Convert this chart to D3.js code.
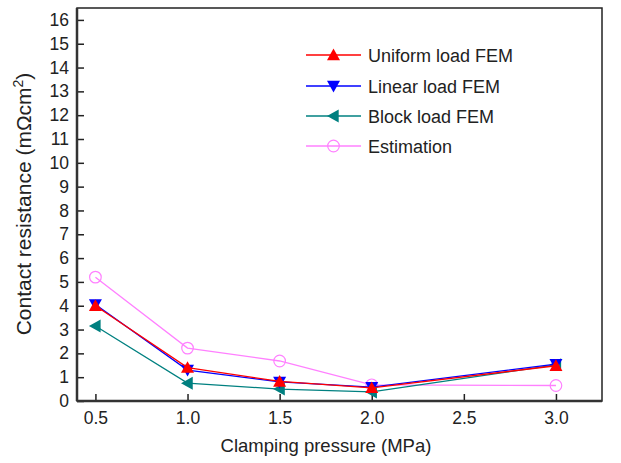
<!DOCTYPE html>
<html>
<head>
<meta charset="utf-8">
<script src="https://cdn.jsdelivr.net/npm/d3@7"></script>
<style>
  body { margin: 0; background: #fff; }
  svg text { font-family: "Liberation Sans", Arial, sans-serif; }
</style>
</head>
<body>
<div class="chart"></div>
<script>
const pressure = [0.5, 1.0, 1.5, 2.0, 3.0];
const uniformLoad = [4.0, 1.4, 0.82, 0.55, 1.48];
const linearLoad = [4.05, 1.3, 0.8, 0.58, 1.55];
const blockLoad = [3.15, 0.75, 0.5, 0.38, 1.52];
const estimation = [5.2, 2.22, 1.68, 0.68, 0.65];
const xTicks = [0.5, 1.0, 1.5, 2.0, 2.5, 3.0];
const yTicks = d3.range(0, 17);

const w = 621, h = 463;
const pLeft = 77, pRight = 602, pTop = 8, pBottom = 401;

const xScale = d3.scaleLinear().domain([0.4, 3.25]).range([pLeft, pRight]);
const yScale = d3.scaleLinear().domain([0, 16.5]).range([pBottom, pTop]);

const series = [
  {name: 'Uniform load FEM', values: uniformLoad, color: '#ff0000', shape: 'up'},
  {name: 'Linear load FEM', values: linearLoad, color: '#0000ff', shape: 'down'},
  {name: 'Block load FEM', values: blockLoad, color: '#008080', shape: 'left'},
  {name: 'Estimation', values: estimation, color: '#ff80ff', shape: 'circle'}
];

const svg = d3.select('div.chart').append('svg')
  .attr('width', w).attr('height', h);

function marker(g, shape, color, x, y) {
  const s = 6.5;
  if (shape === 'circle') {
    g.append('circle').attr('cx', x).attr('cy', y).attr('r', 5.8)
      .attr('fill', 'none').attr('stroke', color).attr('stroke-width', 1.2);
    return;
  }
  let pts;
  if (shape === 'up') pts = [[x, y - s], [x + s, y + s * 0.8], [x - s, y + s * 0.8]];
  if (shape === 'down') pts = [[x, y + s], [x + s, y - s * 0.8], [x - s, y - s * 0.8]];
  if (shape === 'left') pts = [[x - s, y], [x + s * 0.8, y - s], [x + s * 0.8, y + s]];
  g.append('polygon').attr('points', pts.map(p => p.join(',')).join(' '))
    .attr('fill', color);
}

// axes
const xAxis = d3.axisBottom(xScale).tickValues(xTicks)
  .tickFormat(d3.format('.1f')).tickSizeInner(-7).tickSizeOuter(0).tickPadding(11);
const yAxis = d3.axisLeft(yScale).tickValues(yTicks)
  .tickFormat(d3.format('d')).tickSizeInner(-7).tickSizeOuter(0).tickPadding(8);

const gx = svg.append('g').attr('transform', 'translate(0,' + pBottom + ')').call(xAxis);
const gy = svg.append('g').attr('transform', 'translate(' + pLeft + ',0)').call(yAxis);
[gx, gy].forEach(g => {
  g.select('.domain').remove();
  g.selectAll('.tick line').attr('stroke', '#222').attr('stroke-width', 1.5);
  g.selectAll('.tick text').attr('font-size', 17.5).attr('fill', '#222')
    .style('font-family', '"Liberation Sans", Arial, sans-serif');
});

// frame
svg.append('rect')
  .attr('x', pLeft).attr('y', pTop)
  .attr('width', pRight - pLeft).attr('height', pBottom - pTop)
  .attr('fill', 'none').attr('stroke', '#222').attr('stroke-width', 1.5);
svg.append('line').attr('x1', pLeft).attr('x2', pRight).attr('y1', pBottom).attr('y2', pBottom)
  .attr('stroke', '#333').attr('stroke-width', 2.5);
svg.append('line').attr('x1', pLeft).attr('x2', pLeft).attr('y1', pTop).attr('y2', pBottom)
  .attr('stroke', '#333').attr('stroke-width', 2.5);

// lines + markers, estimation drawn first (underneath)
const line = d3.line().x((d, i) => xScale(pressure[i])).y(d => yScale(d));
series.slice().reverse().forEach(s => {
  svg.append('path').datum(s.values)
    .attr('d', line).attr('fill', 'none')
    .attr('stroke', s.color).attr('stroke-width', 1.3);
  const g = svg.append('g');
  s.values.forEach((v, i) => marker(g, s.shape, s.color, xScale(pressure[i]), yScale(v)));
});

// legend
const legendY = [55, 86, 116, 146];
series.forEach((s, i) => {
  const g = svg.append('g');
  g.append('line').attr('x1', 306).attr('x2', 361)
    .attr('y1', legendY[i]).attr('y2', legendY[i])
    .attr('stroke', s.color).attr('stroke-width', 1.3);
  marker(g, s.shape, s.color, 333.5, legendY[i]);
  g.append('text').text(s.name)
    .attr('x', 368).attr('y', legendY[i] + 6.5)
    .attr('font-size', 18).attr('fill', '#222');
});

// axis titles
svg.append('text').text('Clamping pressure (MPa)')
  .attr('x', 326).attr('y', 452)
  .attr('text-anchor', 'middle').attr('font-size', 18.5).attr('fill', '#222');

const yt = svg.append('text')
  .attr('transform', 'translate(31,204) rotate(-90)')
  .attr('text-anchor', 'middle').attr('font-size', 21).attr('fill', '#222');
yt.append('tspan').text('Contact resistance (m\u03A9cm');
yt.append('tspan').text('2').attr('font-size', 14).attr('dy', -8);
yt.append('tspan').text(')').attr('dy', 8);
</script>
</body>
</html>
